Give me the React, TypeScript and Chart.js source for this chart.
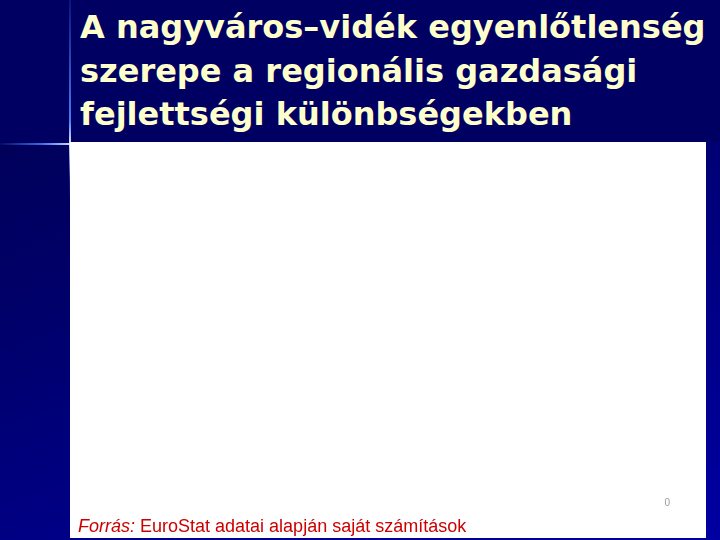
import { useEffect, useRef } from 'react'
import { Chart, registerables } from 'chart.js'

Chart.register(...registerables)

// the embedded chart shows nothing but a single zero on its value axis
const categories: string[] = ['']
const values: number[] = [0]
const yTicks: number[] = [0]

const titleLines = [
  'A nagyváros–vidék egyenlőtlenség',
  'szerepe a regionális gazdasági',
  'fejlettségi különbségekben',
]

const EmptyChart = () => {
  const canvasRef = useRef<HTMLCanvasElement>(null)

  useEffect(() => {
    if (!canvasRef.current) return
    const chart = new Chart(canvasRef.current, {
      type: 'bar',
      data: {
        labels: categories,
        datasets: [{ data: values, backgroundColor: '#ffffff' }],
      },
      options: {
        animation: false,
        responsive: false,
        layout: { padding: { top: 10, right: 33, bottom: 35, left: 10 } },
        plugins: { legend: { display: false }, tooltip: { enabled: false } },
        scales: {
          x: { display: false },
          y: {
            position: 'right',
            min: 0,
            max: 1,
            afterBuildTicks: (axis: any) => {
              axis.ticks = yTicks.map(v => ({ value: v }))
            },
            grid: { display: false },
            border: { display: false },
            ticks: {
              color: '#9a9a9a',
              padding: 3,
              font: { family: 'Liberation Sans', size: 10 },
            },
          },
        },
      },
    })
    return () => chart.destroy()
  }, [])

  return <canvas ref={canvasRef} width={636} height={396} style={{ display: 'block' }} />
}

export default function App() {
  return (
    <div
      style={{
        position: 'absolute',
        left: 0,
        top: 0,
        width: 720,
        height: 540,
        overflow: 'hidden',
        background: 'linear-gradient(160deg, #00004e 0%, #00006a 40%, #0000a2 100%)',
      }}
    >
      {/* dark title band */}
      <div style={{ position: 'absolute', left: 0, top: 0, width: 720, height: 142, background: '#000063' }} />

      {/* decorative lines */}
      <div
        style={{
          position: 'absolute', left: 0, top: 143, width: 70, height: 2,
          background: 'linear-gradient(to right, rgba(40,80,220,0.1), #3a6cf0 60%, #c8d8ff)',
        }}
      />
      <div
        style={{
          position: 'absolute', left: 69, top: 0, width: 2, height: 200,
          background: 'linear-gradient(to bottom, rgba(60,100,230,0.2), #4a7af5 60%, #dfe8ff 72%, rgba(60,100,230,0.3) 90%, rgba(60,100,230,0))',
        }}
      />

      <div
        style={{
          position: 'absolute',
          left: 80,
          top: 6,
          color: '#ffffcc',
          fontFamily: '"DejaVu Sans", Verdana, sans-serif',
          fontWeight: 'bold',
          fontSize: 32,
          lineHeight: '43.5px',
          whiteSpace: 'nowrap',
        }}
      >
        {titleLines.map(t => (
          <div key={t}>{t}</div>
        ))}
      </div>

      <div style={{ position: 'absolute', left: 70, top: 142, width: 636, height: 396, background: '#ffffff' }}>
        <EmptyChart />
      </div>

      <div
        style={{
          position: 'absolute',
          left: 78,
          top: 515,
          color: '#cc0000',
          fontFamily: '"Liberation Sans", Arial, sans-serif',
          fontSize: 18,
          lineHeight: '22px',
          whiteSpace: 'nowrap',
        }}
      >
        <i>Forrás:</i> EuroStat adatai alapján saját számítások
      </div>
    </div>
  )
}
